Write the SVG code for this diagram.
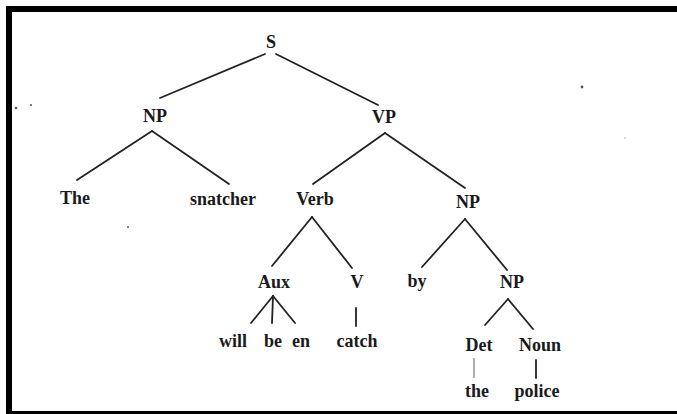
<svg xmlns="http://www.w3.org/2000/svg" width="677" height="414" viewBox="0 0 677 414">
<style>
.t{font-family:"Liberation Serif","Times New Roman",serif;font-size:18px;font-weight:bold;fill:#1a1a1a;text-anchor:middle}
.e{stroke:#222;stroke-width:1.8;fill:none;stroke-linecap:round}
.l{stroke:#777;stroke-width:1.2;fill:none}
</style>
<rect x="0" y="0" width="677" height="414" fill="#fff"/>
<g id="frame" fill="#000">
<rect x="6" y="6" width="671" height="6"/>
<rect x="6" y="6" width="6" height="408"/>
<rect x="6" y="411" width="671" height="3"/>
</g>
<g id="specks" fill="#555">
<circle cx="16" cy="108" r="1.3"/>
<circle cx="31" cy="105" r="1"/>
<circle cx="582" cy="87" r="1.4"/>
<circle cx="128" cy="227" r="1"/>
<circle cx="625" cy="138" r="0.8" fill="#aaa"/>
</g>
<g id="connectors">
<line class="e" x1="265" y1="54" x2="160" y2="98"/>
<line class="e" x1="276" y1="54" x2="378" y2="105"/>
<line class="e" x1="152" y1="131" x2="77" y2="180"/>
<line class="e" x1="152" y1="131" x2="229" y2="184"/>
<line class="e" x1="385" y1="133" x2="313" y2="184"/>
<line class="e" x1="385" y1="133" x2="465" y2="188"/>
<line class="e" x1="312" y1="217" x2="272" y2="266"/>
<line class="e" x1="312" y1="217" x2="352" y2="268"/>
<line class="e" x1="465" y1="219" x2="422" y2="267"/>
<line class="e" x1="465" y1="219" x2="507" y2="270"/>
<line class="e" x1="273" y1="296" x2="251" y2="323"/>
<line class="e" x1="273" y1="296" x2="272" y2="323"/>
<line class="e" x1="273" y1="296" x2="295" y2="323"/>
<line class="e" x1="356" y1="308" x2="356" y2="326"/>
<line class="e" x1="508" y1="299" x2="485" y2="325"/>
<line class="e" x1="508" y1="299" x2="533" y2="329"/>
<line class="l" x1="474" y1="358" x2="474" y2="378"/>
<line class="e" x1="536" y1="360" x2="536" y2="378"/>
</g>
<g id="n-S"><text class="t" x="271" y="48">S</text></g>
<g id="n-NP1"><text class="t" x="155" y="122">NP</text></g>
<g id="n-VP"><text class="t" x="384" y="123">VP</text></g>
<g id="n-The"><text class="t" x="75" y="204">The</text></g>
<g id="n-snatcher"><text class="t" x="223" y="205">snatcher</text></g>
<g id="n-Verb"><text class="t" x="315" y="205">Verb</text></g>
<g id="n-NP2"><text class="t" x="468" y="208">NP</text></g>
<g id="n-Aux"><text class="t" x="274" y="288">Aux</text></g>
<g id="n-V"><text class="t" x="357" y="288">V</text></g>
<g id="n-by"><text class="t" x="417" y="287">by</text></g>
<g id="n-NP3"><text class="t" x="512" y="288">NP</text></g>
<g id="n-will"><text class="t" x="233" y="347">will</text></g>
<g id="n-be"><text class="t" x="273" y="347">be</text></g>
<g id="n-en"><text class="t" x="301" y="347">en</text></g>
<g id="n-catch"><text class="t" x="357" y="347">catch</text></g>
<g id="n-Det"><text class="t" x="479" y="351">Det</text></g>
<g id="n-Noun"><text class="t" x="540" y="351">Noun</text></g>
<g id="n-the"><text class="t" x="477" y="397">the</text></g>
<g id="n-police"><text class="t" x="537" y="397">police</text></g>
</svg>
